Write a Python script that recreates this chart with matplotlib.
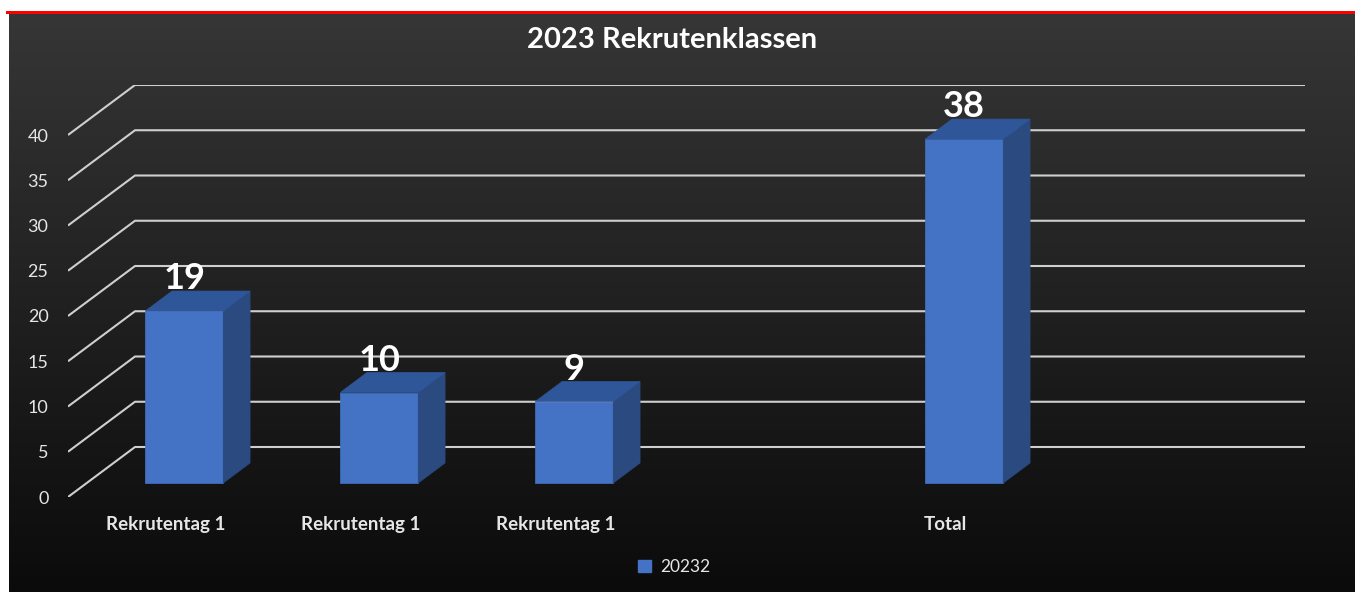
import numpy as np
import matplotlib.pyplot as plt
from matplotlib.patches import Polygon, Patch

# data
categories = ["Rekrutentag 1", "Rekrutentag 1", "Rekrutentag 1", "", "Total", ""]
values = [19, 10, 9, None, 38, None]
series_name = "20232"
title = "2023 Rekrutenklassen"
yticks = [0, 5, 10, 15, 20, 25, 30, 35, 40]

frontColor = "#4472c4"
topColor = "#30569a"
sideColor = "#2a4a80"
gridColor = "#cfcfcf"
textColor = "#e6e6e6"

plt.rcParams['font.family'] = ['Lato', 'DejaVu Sans']

W, H = 1355, 592
fig = plt.figure(figsize=(W / 100, H / 100), dpi=100, facecolor='white')

# background: gradient panel with red line on top
bg = fig.add_axes([0, 0, 1, 1], zorder=0)
bg.set_xlim(0, W)
bg.set_ylim(H, 0)
bg.axis('off')
grad = np.linspace(0, 1, 256).reshape(-1, 1)
top_rgb = np.array([0x36, 0x36, 0x36]) / 255
bot_rgb = np.array([0x0b, 0x0b, 0x0b]) / 255
img = top_rgb + (bot_rgb - top_rgb) * grad[..., None]
bg.imshow(img, extent=(9, W, H, 13.5), aspect='auto', interpolation='bilinear')
bg.fill_between([6, W], 10.8, 13.5, color='#ff0000', lw=0)

# 3d-ish depth settings (fractions of floor depth)
DX = 67 / 195     # back wall shift in category units
DY = 50 / 9.05    # back wall shift in value units
f0, f1 = 0.28, 0.68
bw = 0.4

ax = fig.add_axes([68 / W, (H - 497) / H, (1305 - 68) / W, (497 - 85) / H], zorder=1)
ax.patch.set_alpha(0)
n = len(categories)
ax.set_xlim(-0.5, n - 0.5 + DX)
ax.set_ylim(0, 40 + DY)
for s in ax.spines.values():
    s.set_visible(False)

# gridlines: diagonal on the side wall + horizontal on back wall
for v in yticks:
    ax.plot([-0.5, -0.5 + DX, n - 0.5 + DX], [v, v + DY, v + DY],
            color=gridColor, lw=1.5, zorder=0.5, solid_capstyle='butt')

x = np.arange(n)
for i, v in enumerate(values):
    if v is None:
        continue
    xl = i - bw / 2 + f0 * DX
    xr = xl + bw
    yb = f0 * DY
    ddx = (f1 - f0) * DX
    ddy = (f1 - f0) * DY
    ax.bar(xl + bw / 2, v, width=bw, bottom=yb, facecolor=frontColor, edgecolor=frontColor,
           lw=0.5, zorder=5)
    ax.add_patch(Polygon([(xr, yb), (xr + ddx, yb + ddy), (xr + ddx, yb + v + ddy), (xr, yb + v)],
                         closed=True, facecolor=sideColor, edgecolor=sideColor, lw=0.5, zorder=5))
    ax.add_patch(Polygon([(xl, yb + v), (xr, yb + v), (xr + ddx, yb + v + ddy), (xl + ddx, yb + v + ddy)],
                         closed=True, facecolor=topColor, edgecolor=topColor, lw=0.5, zorder=5))
    ax.text(xl + bw / 2, v + f1 * DY + 0.2, str(v), ha='center', va='baseline',
            color='white', fontsize=26, fontweight='bold', zorder=6)

ax.set_xticks(x, categories)
ax.set_yticks(yticks, [str(t) for t in yticks])
ax.tick_params(axis='x', length=0, pad=14, labelsize=13.5, labelcolor=textColor)
ax.tick_params(axis='y', length=0, pad=14, labelsize=13, labelcolor=textColor)
for lab in ax.get_xticklabels():
    lab.set_fontweight('bold')

fig.text(672 / W, 1 - 40 / H, title, ha='center', va='center', color='white',
         fontsize=21, fontweight='bold')

fig.legend(handles=[Patch(color=frontColor, label=series_name)], loc='center',
           bbox_to_anchor=(674 / W, 1 - 567 / H), frameon=False, handlelength=0.75,
           handleheight=0.75, handletextpad=0.5, labelcolor=textColor, fontsize=12.5)

fig.savefig('out.png', dpi=100, facecolor=fig.get_facecolor())
